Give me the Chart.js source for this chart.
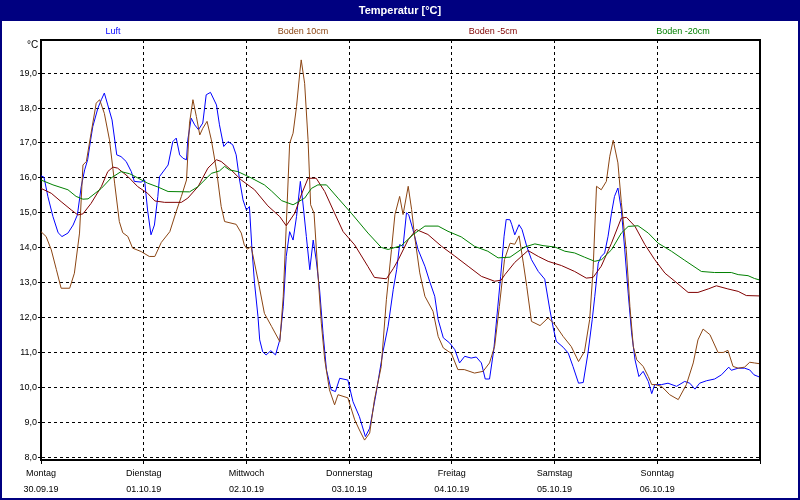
<!DOCTYPE html>
<html>
<head>
<meta charset="utf-8">
<script src="https://cdn.jsdelivr.net/npm/chart.js@4.4.1/dist/chart.umd.min.js"></script>
<style>
  html, body { margin: 0; padding: 0; background: #fff; }
  #wrap { position: relative; width: 800px; height: 500px; overflow: hidden; background: #fff;
          font-family: "Liberation Sans", Arial, sans-serif; }
  #chart { position: absolute; left: 0; top: 0; }
  #frame { position: absolute; left: 0; top: 0; width: 800px; height: 500px; box-sizing: border-box;
           border: 2px solid #000080; pointer-events: none; }
  #title { position: absolute; left: 0; top: 0; width: 800px; height: 21px; background: #000080; color: #fff;
           font-weight: bold; font-size: 11px; line-height: 21px; text-align: center; }
  #legend { position: absolute; left: 18px; top: 24px; width: 760px; height: 14px; display: flex;
            font-size: 9px; line-height: 14px; }
  #legend span { flex: 1; text-align: center; }
  #unit { position: absolute; left: 27px; top: 39px; font-size: 10px; color: #000; }
</style>
</head>
<body>
<div id="wrap">
  <canvas id="chart" width="800" height="500"></canvas>
  <div id="frame"></div>
  <div id="title">Temperatur [°C]</div>
  <div id="legend">
    <span style="color:#0000ff">Luft</span>
    <span style="color:#8b4513">Boden 10cm</span>
    <span style="color:#800000">Boden -5cm</span>
    <span style="color:#008000">Boden -20cm</span>
  </div>
  <div id="unit">°C</div>
</div>
<script>
// ---- Data (x = hours since Monday 30.09.19 00:00) ----
const dayNames = ['Montag','Dienstag','Mittwoch','Donnerstag','Freitag','Samstag','Sonntag'];
const dateLabels = ['30.09.19','01.10.19','02.10.19','03.10.19','04.10.19','05.10.19','06.10.19'];
const dayTickHours = [0,24,48,72,96,120,144,168];
const yTickValues = [8,9,10,11,12,13,14,15,16,17,18,19];

const luftHours = [0,0.7,1.6,2.8,4,4.9,6.3,7.5,8.5,9.4,
  10.2,10.9,11.6,12.1,13.3,14.1,14.8,15.6,16.6,17.7,
  18.7,19.9,21.1,21.8,23.4,24.2,24.9,25.7,26.5,27.3,
  27.7,29.7,30.8,31.6,32.4,33.2,34,34.3,35.1,35.9,
  36.8,37.8,38.6,39.6,41,41.7,42.7,43.7,44.8,45.6,
  46.4,47.2,48,48.7,49.3,49.9,50.7,51.1,51.8,52.6,
  53.7,54.8,55.8,56.6,57.3,58.1,58.9,59.7,60.6,61.2,
  62,62.8,63.6,64.3,65.1,65.9,66.7,67.8,68.8,69.8,
  71.7,72.9,74.4,75.8,76.8,78.3,79.9,81.1,82.3,83.1,
  83.8,84.6,85.4,85.9,86.9,88.1,89.7,90.8,92,92.8,
  94,95.5,96.7,97.8,99,100.5,101.7,102.9,103.8,104.8,
  105.8,106.6,107.4,108.2,108.7,109.6,110,110.7,111.7,112.4,
  113.5,114.6,116.2,117.7,118.9,119.7,120.4,122,123.2,124.3,
  125.6,126.7,127.8,128.8,129.4,130.2,130.9,131.7,132.5,133.3,
  134,134.8,135.6,136.4,137.2,138,138.8,139.7,140.7,141.9,
  142.7,143.4,145,146.5,148.5,150.4,151.6,152.8,153.9,155.5,
  157.4,159,160.7,161.3,162.9,164.4,165.6,166.6,167.8];
const luftTemp = [16.06,16.02,15.47,14.89,14.43,14.32,14.42,14.65,14.94,15.75,
  16.23,16.52,17.09,17.47,18.0,18.24,18.43,18.09,17.66,16.66,
  16.61,16.47,16.18,15.9,15.88,15.94,15.08,14.37,14.65,15.47,
  16.04,16.37,17.04,17.14,16.66,16.56,16.52,17.09,17.71,17.52,
  17.38,17.57,18.38,18.45,18.09,17.52,16.9,17.04,16.95,16.66,
  15.94,15.37,15.08,15.18,13.94,12.98,12.03,11.36,11.02,10.93,
  11.05,10.93,11.36,12.31,13.75,14.46,14.22,14.89,15.9,15.28,
  14.32,13.37,14.22,13.65,12.79,11.55,10.5,9.93,9.88,10.26,
  10.21,9.59,9.16,8.59,8.83,9.83,11.02,11.75,12.8,13.37,
  14.09,14.04,15.0,14.95,14.52,13.95,13.47,13.04,12.61,11.94,
  11.42,11.27,11.08,10.7,10.89,10.84,10.87,10.7,10.24,10.24,
  11.08,12.13,13.18,14.33,14.81,14.8,14.66,14.37,14.66,14.52,
  14.04,13.66,13.32,13.1,12.22,11.7,11.32,11.15,10.98,10.6,
  10.12,10.14,10.98,11.94,12.61,13.56,13.75,13.85,14.33,14.99,
  15.47,15.71,15.09,13.94,12.7,11.56,10.79,10.31,10.46,10.17,
  9.82,10.08,10.08,10.12,10.03,10.17,10.12,9.95,10.12,10.19,
  10.24,10.36,10.58,10.49,10.55,10.55,10.5,10.36,10.3];

const boden10Hours = [0,1.2,2.4,3.6,4.7,6.7,7.8,9,9.8,10.6,
  11.7,12.9,13.7,14.8,16,17.2,18.3,19.1,20.3,21.4,
  23.4,25.3,26.6,28.1,30.1,31.6,32.8,34,34.7,35.5,
  36.3,37.1,37.8,38.8,39.8,41,42.1,42.9,45.6,46.8,
  47.5,48.2,49.1,50.7,52.2,53.9,55.8,56.6,57.3,58.1,
  58.9,59.7,60.5,60.8,61.6,62.4,63,63.8,64.7,65.5,
  66.3,67.4,68.6,69.4,71.7,73.3,74.4,75.6,76.8,77.9,
  79.5,80.7,81.9,82.7,83.8,84.6,85.8,86.6,87.3,88.5,
  89.7,91.6,92.8,94,95.9,97.4,98.9,101.3,103.3,104.8,
  106,107.1,108.3,109.6,110.7,111.7,112.7,113.5,114.6,116.6,
  118.5,120.1,122,123.9,125.6,127,128.2,129,129.8,130.9,
  132.1,132.9,133.7,134.8,135.6,136.8,137.6,138.4,139.2,140.7,
  141.9,142.7,143.5,145,146.9,148.9,150.8,152.4,153.5,154.7,
  156.3,158.2,159.4,160.5,161.7,162.9,164.4,165.6,166.7,167.8];
const boden10Temp = [14.46,14.32,13.94,13.37,12.84,12.84,13.27,14.42,16.37,16.47,
  17.28,18.14,18.24,17.85,17.09,15.85,14.75,14.43,14.32,13.99,
  13.89,13.75,13.75,14.15,14.46,15.04,15.47,15.94,17.57,18.24,
  17.76,17.23,17.42,17.62,17.09,16.23,15.18,14.75,14.67,14.42,
  14.08,13.96,14.03,13.08,12.12,11.74,11.31,12.6,14.61,16.99,
  17.28,18.04,19.05,19.38,18.71,17.09,15.23,14.99,13.27,11.84,
  10.79,9.93,9.5,9.79,9.7,9.07,8.78,8.49,8.69,9.64,
  10.6,12.51,13.95,14.95,15.47,14.95,15.76,15.09,14.33,13.28,
  12.61,12.18,11.46,11.13,10.97,10.51,10.51,10.41,10.46,10.7,
  11.18,12.32,13.66,14.13,14.1,14.34,13.56,12.89,11.89,11.77,
  11.99,11.8,11.46,11.17,10.74,11.03,11.94,13.37,15.76,15.66,
  15.9,16.62,17.08,16.43,15.3,13.85,12.32,11.17,10.79,10.6,
  10.31,10.08,10.08,10.03,9.79,9.65,10.08,10.7,11.36,11.67,
  11.51,11.0,11.0,11.06,10.6,10.55,10.58,10.72,10.7,10.68];

const boden5Hours = [0,2.4,4.7,7.1,8.6,9.8,11.7,14.1,15.6,16.8,
  17.9,20.3,22.6,24.9,26.6,28.9,32.8,34.3,36.7,39,
  41,42.1,44.4,46.8,49.9,53,55.8,57.3,59.3,60.8,
  62.4,64.3,66.3,68.6,70.6,73.3,76.4,77.9,80.7,82.3,
  83.5,85.8,87.7,90.4,93.6,96.7,99.8,102.9,106,107.5,
  108.4,110.7,113.8,116.2,118.5,121.6,124.7,127.4,129,130.9,
  133.3,135.6,136.8,138.8,141.1,143.4,145.8,148.1,151.2,153.5,
  155.9,157.8,160.5,162.9,164.8,167.8];
const boden5Temp = [15.7,15.56,15.32,15.08,14.94,14.97,15.27,15.75,16.18,16.31,
  16.28,16.04,15.75,15.56,15.34,15.3,15.3,15.42,15.75,16.28,
  16.52,16.47,16.23,15.94,15.66,15.2,14.89,14.63,14.99,15.51,
  15.99,15.99,15.61,14.99,14.46,14.08,13.46,13.15,13.11,13.4,
  13.66,14.23,14.52,14.38,14.04,13.76,13.47,13.18,13.04,13.07,
  13.23,13.58,13.92,13.75,13.61,13.49,13.32,13.13,13.15,13.47,
  14.13,14.85,14.87,14.61,14.09,13.66,13.27,13.04,12.72,12.72,
  12.82,12.91,12.82,12.75,12.63,12.62];

const boden20Hours = [0,2.8,6.3,8.2,9.8,11,14.1,16.4,18.7,20.7,
  22.6,24.9,27.3,29.7,34.7,36.7,39.8,41.7,42.9,44,
  46,49.1,52.2,53.9,56.2,58.9,61.6,63.2,64.7,66.7,
  69.4,72.5,76.4,79.5,81.1,84.2,87,89.7,92.8,95.1,
  98.2,101.3,104.4,106.8,109.6,113,115.4,117.3,120.1,122.4,
  124.7,127,129.4,131,133.3,135.6,137.2,139.5,141.9,144.2,
  147.3,150.4,154.3,157.4,161.3,162.9,165.2,166.7,167.8];
const boden20Temp = [15.94,15.8,15.66,15.47,15.39,15.4,15.7,16.0,16.18,16.12,
  16.0,15.85,15.74,15.61,15.6,15.75,16.13,16.2,16.33,16.23,
  16.18,16.0,15.8,15.62,15.35,15.23,15.42,15.7,15.8,15.8,
  15.42,14.99,14.42,14.01,13.95,14.06,14.38,14.62,14.62,14.47,
  14.31,14.04,13.9,13.71,13.73,14.02,14.11,14.06,14.02,13.9,
  13.85,13.73,13.61,13.66,13.94,14.42,14.61,14.63,14.42,14.13,
  13.9,13.64,13.32,13.29,13.29,13.23,13.2,13.12,13.08];

function pairs(hs, ts) { return hs.map((h, i) => ({ x: h, y: ts[i] })); }

const FONT = "'Liberation Sans', Arial, sans-serif";

const framePlugin = {
  id: 'frame',
  afterDraw(chart) {
    const { ctx, chartArea: a } = chart;
    ctx.save();
    ctx.strokeStyle = '#000';
    ctx.lineWidth = 2;
    ctx.beginPath();
    ctx.moveTo(a.left, a.top);
    ctx.lineTo(a.right, a.top);
    ctx.lineTo(a.right, a.bottom);
    ctx.stroke();
    ctx.restore();
  }
};

function ds(label, hs, ts, color) {
  return { label, data: pairs(hs, ts), borderColor: color, backgroundColor: color,
           borderWidth: 1, pointRadius: 0, tension: 0, fill: false };
}

new Chart(document.getElementById('chart'), {
  type: 'line',
  data: {
    datasets: [
      ds('Boden -20cm', boden20Hours, boden20Temp, '#008000'),
      ds('Boden -5cm', boden5Hours, boden5Temp, '#800000'),
      ds('Boden 10cm', boden10Hours, boden10Temp, '#8b4513'),
      ds('Luft', luftHours, luftTemp, '#0000ff')
    ]
  },
  options: {
    responsive: false,
    animation: false,
    layout: { padding: { left: 0, top: 40, right: 40, bottom: 0 } },
    plugins: { legend: { display: false }, title: { display: false }, tooltip: { enabled: false } },
    scales: {
      x: {
        type: 'linear', min: 0, max: 168,
        afterBuildTicks: s => { s.ticks = dayTickHours.map(v => ({ value: v })); },
        afterFit: s => { s.height = 40; },
        ticks: {
          autoSkip: false, maxRotation: 0, color: '#000', padding: 2,
          font: { family: FONT, size: 9, lineHeight: 1.75 },
          callback: v => { const i = dayTickHours.indexOf(v); return (i >= 0 && i < 7) ? [dayNames[i], dateLabels[i]] : ''; }
        },
        grid: { color: '#000', lineWidth: 1, tickLength: 4, drawTicks: true },
        border: { display: true, color: '#000', width: 2, dash: [3, 3] }
      },
      y: {
        min: 7.92, max: 19.95,
        afterBuildTicks: s => { s.ticks = yTickValues.map(v => ({ value: v })); },
        afterFit: s => { s.width = 41; },
        ticks: {
          color: '#000', padding: 1,
          font: { family: FONT, size: 9 },
          callback: v => v.toFixed(1).replace('.', ',')
        },
        grid: { color: '#000', lineWidth: 1, tickLength: 3, drawTicks: true },
        border: { display: true, color: '#000', width: 2, dash: [3, 3] }
      }
    }
  },
  plugins: [framePlugin]
});
</script>
</body>
</html>
